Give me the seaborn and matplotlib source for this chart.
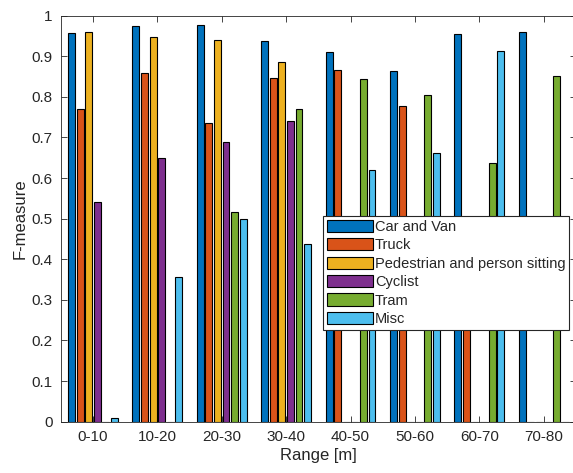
import seaborn as sns
import matplotlib
matplotlib.use('Agg')
import matplotlib.pyplot as plt
import pandas as pd

sns.set_style('ticks')
plt.rcParams['font.family'] = ['Liberation Sans', 'DejaVu Sans']

# 数据
ranges = ['0-10', '10-20', '20-30', '30-40', '40-50', '50-60', '60-70', '70-80']
classes = ['Car and Van', 'Truck', 'Pedestrian and person sitting', 'Cyclist', 'Tram', 'Misc']
car_van = [0.957, 0.975, 0.978, 0.937, 0.910, 0.864, 0.954, 0.960]
truck = [0.770, 0.859, 0.735, 0.846, 0.866, 0.778, 0.45, 0.0]
pedestrian = [0.960, 0.948, 0.939, 0.887, 0.0, 0.0, 0.0, 0.0]
cyclist = [0.542, 0.650, 0.689, 0.740, 0.0, 0.0, 0.0, 0.0]
tram = [0.0, 0.0, 0.516, 0.770, 0.845, 0.805, 0.638, 0.851]
misc = [0.010, 0.357, 0.499, 0.437, 0.620, 0.662, 0.913, 0.0]

colors = ['#0072BD', '#D95319', '#EDB120', '#7E2F8E', '#77AC30', '#4DBEEE']

series = [car_van, truck, pedestrian, cyclist, tram, misc]
df = []
for name, vals in zip(classes, series):
    d = pd.DataFrame({'range': ranges, 'F-measure': vals})
    d['class'] = name
    df.append(d)
df = pd.concat(df, ignore_index=True)

fig = plt.figure(figsize=(5.73, 4.73), dpi=100)
ax = fig.add_axes([0.1061, 0.1085, 0.899, 0.8583])
sns.barplot(x='range', y='F-measure', hue='class', data=df, palette=colors, saturation=1,
            width=0.8, gap=0.2, edgecolor='black', linewidth=0.8, ax=ax)

ax.set_xlim(-0.5, 7.5)
ax.set_ylim(0, 1)
ax.set_yticks([i / 10 for i in range(11)])
ax.set_yticklabels(['0'] + ['0.%d' % i for i in range(1, 10)] + ['1'])
ax.tick_params(direction='in', top=True, right=True, length=4, width=0.6,
               color='#262626', labelcolor='#262626', labelsize=11, pad=6)
for s in ax.spines.values():
    s.set_color('#262626')
    s.set_linewidth(0.6)
ax.set_xlabel('Range [m]', fontsize=12, color='#262626', labelpad=3)
ax.set_ylabel('F-measure', fontsize=12, color='#262626', labelpad=3)

ax.legend(loc='upper left', bbox_to_anchor=(0.5637, 0.5433), bbox_transform=fig.transFigure,
          fontsize=10.5, frameon=True, fancybox=False, framealpha=1, edgecolor='#262626',
          handlelength=3.15, handleheight=0.9, handletextpad=0.15, labelspacing=0.3,
          borderpad=0.25, borderaxespad=0)
ax.get_legend().get_frame().set_linewidth(0.8)

plt.savefig('out.png', dpi=100)
